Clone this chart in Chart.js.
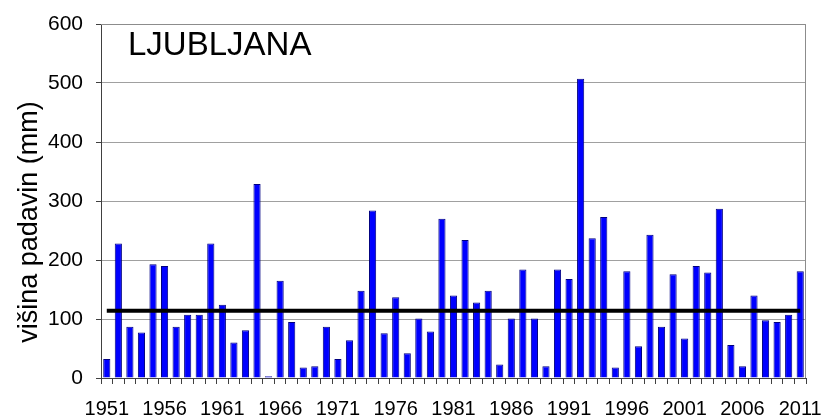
<!DOCTYPE html>
<html>
<head>
<meta charset="utf-8">
<script src="https://cdn.jsdelivr.net/npm/chart.js@4/dist/chart.umd.min.js"></script>
<style>
  html, body { margin: 0; padding: 0; background: #fff; }
  #wrap { width: 825px; height: 416px; }
</style>
</head>
<body>
<div id="wrap"><canvas id="graf"></canvas></div>
<script>
// leta 1951 - 2011
var leta = [];
for (var l = 1951; l <= 2011; l++) leta.push(String(l));

// višina padavin (mm), odčitano s slike
var padavine = [
  32, 228, 87, 77, 193, 190, 87, 107, 107, 228,
  124, 60, 81, 329, 3, 165, 95, 18, 20, 87,
  32, 64, 148, 284, 76, 137, 42, 101, 79, 270,
  140, 234, 128, 148, 23, 101, 184, 101, 20, 184,
  168, 507, 237, 273, 18, 181, 54, 243, 87, 176,
  67, 190, 179, 287, 56, 20, 140, 98, 95, 107,
  181
];

// povprečje (črna črta)
var povprecje = 114;
var yTicks = [0, 100, 200, 300, 400, 500, 600];
var naslov = "LJUBLJANA";
var osY = "višina padavin (mm)";

var pisava = '"Liberation Sans", Arial, sans-serif';

var okvir = {
  id: 'okvir',
  beforeDatasetsDraw: function(chart) {
    var a = chart.chartArea, ctx = chart.ctx;
    ctx.save();
    ctx.strokeStyle = '#8c8c8c';
    ctx.lineWidth = 1;
    ctx.beginPath();
    ctx.moveTo(a.left, a.top + 0.5);
    ctx.lineTo(a.right - 0.5, a.top + 0.5);
    ctx.lineTo(a.right - 0.5, a.bottom);
    ctx.stroke();
    ctx.restore();
  },
  afterDatasetsDraw: function(chart) {
    var a = chart.chartArea, ctx = chart.ctx;
    ctx.save();
    ctx.fillStyle = '#000';
    ctx.font = '33px ' + pisava;
    ctx.textBaseline = 'middle';
    ctx.fillText(naslov, a.left + 27, a.top + 22);
    // naslov osi y
    ctx.font = '27px ' + pisava;
    ctx.textAlign = 'center';
    ctx.translate(30, 222);
    ctx.rotate(-Math.PI / 2);
    ctx.fillText(osY, 0, 0);
    ctx.restore();
  }
};

var ctx = document.getElementById('graf').getContext('2d');
var graf = new Chart(ctx, {
  type: 'bar',
  data: {
    labels: leta,
    datasets: [
      {
        type: 'line',
        label: 'povprečje',
        data: [{x: leta[0], y: povprecje}, {x: leta[leta.length - 1], y: povprecje}],
        borderColor: '#000',
        borderWidth: 4,
        pointRadius: 0,
        order: 0
      },
      {
        label: 'padavine',
        data: padavine,
        backgroundColor: '#0000ff',
        borderColor: '#000080',
        borderWidth: 1,
        barPercentage: 0.62,
        categoryPercentage: 1,
        order: 1
      }
    ]
  },
  options: {
    responsive: true,
    maintainAspectRatio: false,
    animation: false,
    layout: { padding: { top: 24, right: 19, left: 0, bottom: 0 } },
    plugins: {
      legend: { display: false },
      tooltip: { enabled: false }
    },
    scales: {
      x: {
        offset: true,
        grid: {
          offset: true,
          drawOnChartArea: false,
          drawTicks: true,
          tickLength: 6,
          color: '#404040'
        },
        border: { color: '#404040', width: 1 },
        ticks: {
          autoSkip: false,
          maxRotation: 0,
          padding: 13,
          color: '#000',
          font: { family: pisava, size: 20 },
          callback: function(v, i) { return i % 5 === 0 ? leta[i] : ''; }
        },
        afterFit: function(s) { s.height = 38; s.paddingLeft = 0; s.paddingRight = 0; }
      },
      y: {
        min: 0,
        max: 600,
        afterBuildTicks: function(s) { s.ticks = yTicks.map(function(v) { return {value: v}; }); },
        grid: {
          color: '#a0a0a0',
          tickLength: 5,
          tickColor: '#404040'
        },
        border: { color: '#404040', width: 1 },
        ticks: {
          padding: 13,
          color: '#000',
          font: { family: pisava, size: 21 }
        },
        afterFit: function(s) { s.width = 101; s.paddingTop = 0; s.paddingBottom = 0; }
      }
    }
  },
  plugins: [okvir]
});
</script>
</body>
</html>
